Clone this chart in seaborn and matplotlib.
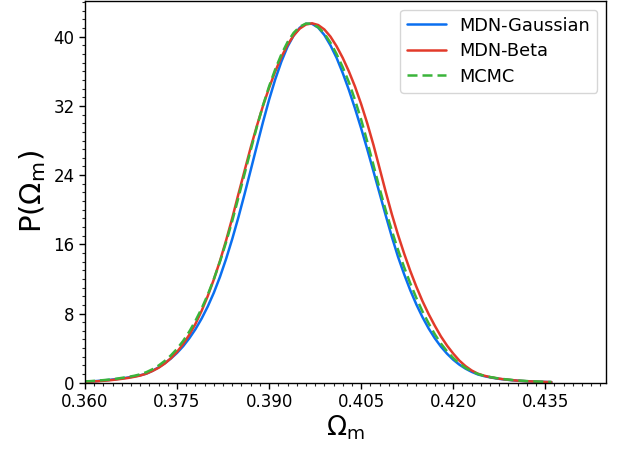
import matplotlib
matplotlib.use("Agg")
import matplotlib.pyplot as plt
import matplotlib.ticker as mticker
import seaborn as sns

# Omega_m sampling points (values at 0.001 steps)
omega_m = [0.360, 0.361, 0.362, 0.363, 0.364, 0.365, 0.366, 0.367, 0.368, 0.369,
           0.370, 0.371, 0.372, 0.373, 0.374, 0.375, 0.376, 0.377, 0.378, 0.379,
           0.380, 0.381, 0.382, 0.383, 0.384, 0.385, 0.386, 0.387, 0.388, 0.389,
           0.390, 0.391, 0.392, 0.393, 0.394, 0.395, 0.396, 0.397, 0.398, 0.399,
           0.400, 0.401, 0.402, 0.403, 0.404, 0.405, 0.406, 0.407, 0.408, 0.409,
           0.410, 0.411, 0.412, 0.413, 0.414, 0.415, 0.416, 0.417, 0.418, 0.419,
           0.420, 0.421, 0.422, 0.423, 0.424, 0.425, 0.426, 0.427, 0.428, 0.429,
           0.430, 0.431, 0.432, 0.433, 0.434, 0.435, 0.436]

mdn_gaussian = [0.12, 0.16, 0.2, 0.26, 0.33, 0.41, 0.5, 0.6, 0.72, 0.86,
                1.05, 1.38, 1.78, 2.25, 2.8, 3.45, 4.22, 5.14, 6.19, 7.41,
                8.81, 10.41, 12.25, 14.33, 16.63, 19.13, 21.8, 24.57, 27.37, 30.12,
                32.72, 35.07, 37.12, 38.84, 40.14, 41.04, 41.49, 41.49, 41.05, 40.2,
                39.0, 37.55, 35.8, 33.85, 31.7, 29.4, 26.98, 24.45, 21.9, 19.35,
                16.87, 14.57, 12.55, 10.7, 9.04, 7.57, 6.27, 5.14, 4.17, 3.35,
                2.66, 2.09, 1.63, 1.26, 0.96, 0.77, 0.62, 0.5, 0.4, 0.33,
                0.26, 0.21, 0.17, 0.14, 0.11, 0.09, 0.07]

mdn_beta = [0.1, 0.13, 0.17, 0.22, 0.28, 0.36, 0.45, 0.55, 0.68, 0.83,
            1.05, 1.36, 1.73, 2.22, 2.83, 3.57, 4.47, 5.55, 6.8, 8.3,
            10.01, 11.95, 14.09, 16.47, 19.05, 21.81, 24.5, 27.18, 29.67, 31.99,
            34.09, 35.99, 37.65, 39.05, 40.14, 40.94, 41.41, 41.55, 41.35, 40.84,
            40.01, 38.89, 37.55, 35.99, 34.23, 32.21, 29.97, 27.5, 24.8, 22.07,
            19.48, 17.11, 14.94, 12.93, 11.09, 9.42, 7.93, 6.59, 5.35, 4.29,
            3.37, 2.56, 1.92, 1.42, 1.05, 0.82, 0.65, 0.52, 0.42, 0.34,
            0.27, 0.21, 0.17, 0.14, 0.11, 0.09, 0.07]

mcmc = [0.15, 0.19, 0.24, 0.3, 0.37, 0.45, 0.56, 0.67, 0.8, 0.97,
        1.22, 1.56, 1.99, 2.52, 3.16, 3.92, 4.84, 5.92, 7.16, 8.57,
        10.17, 11.99, 14.01, 16.27, 18.72, 21.4, 24.14, 26.88, 29.57, 32.05,
        34.26, 36.23, 37.96, 39.37, 40.45, 41.16, 41.52, 41.49, 41.1, 40.37,
        39.31, 38.0, 36.47, 34.74, 32.68, 30.42, 27.86, 25.17, 22.47, 19.94,
        17.57, 15.38, 13.36, 11.5, 9.79, 8.23, 6.86, 5.61, 4.53, 3.63,
        2.86, 2.22, 1.72, 1.32, 1.02, 0.8, 0.66, 0.54, 0.44, 0.36,
        0.29, 0.24, 0.19, 0.16, 0.13, 0.1, 0.08]

labels = ["MDN-Gaussian", "MDN-Beta", "MCMC"]
x_ticks = [0.360, 0.375, 0.390, 0.405, 0.420, 0.435]
y_ticks = [0, 8, 16, 24, 32, 40]

sns.set_style("ticks")
plt.rcParams["font.family"] = ["DejaVu Sans"]
plt.rcParams["text.color"] = "black"
plt.rcParams["axes.labelcolor"] = "black"

fig = plt.figure(figsize=(6.31, 4.51), dpi=100)
ax = fig.add_axes([0.1347, 0.1514, 0.8257, 0.847])

lw = 1.8
sns.lineplot(x=omega_m, y=mdn_gaussian, ax=ax, color="#0a6ff0", lw=lw, label=labels[0])
sns.lineplot(x=omega_m, y=mdn_beta, ax=ax, color="#e23a2a", lw=lw, label=labels[1])
sns.lineplot(x=omega_m, y=mcmc, ax=ax, color="#3ab43a", lw=lw, label=labels[2],
             linestyle=(0, (4, 2)))

ax.set_xlim(0.360, 0.4449)
ax.set_ylim(0, 44.16)
ax.set_xticks(x_ticks)
ax.set_xticklabels([f"{t:.3f}" for t in x_ticks])
ax.set_yticks(y_ticks)
ax.xaxis.set_minor_locator(mticker.MultipleLocator(0.0015))
ax.yaxis.set_minor_locator(mticker.MultipleLocator(1))
ax.tick_params(which="major", direction="out", length=4, width=1, labelsize=12, colors="black")
ax.tick_params(which="minor", direction="out", length=2.2, width=0.8)
for s in ax.spines.values():
    s.set_visible(True)
    s.set_color("black")
    s.set_linewidth(1)

ax.set_xlabel(r"$\Omega_{\rm m}$", fontsize=19, labelpad=2, color="black")
ax.set_ylabel(r"P($\Omega_{\rm m}$)", fontsize=21, labelpad=4, color="black")

leg = ax.legend(loc="upper right", fontsize=12.8, handlelength=2.2, handletextpad=0.72,
                labelspacing=0.42, borderaxespad=0.5, frameon=True)
for t in leg.get_texts():
    t.set_color("black")

fig.savefig("out.png", dpi=100)
